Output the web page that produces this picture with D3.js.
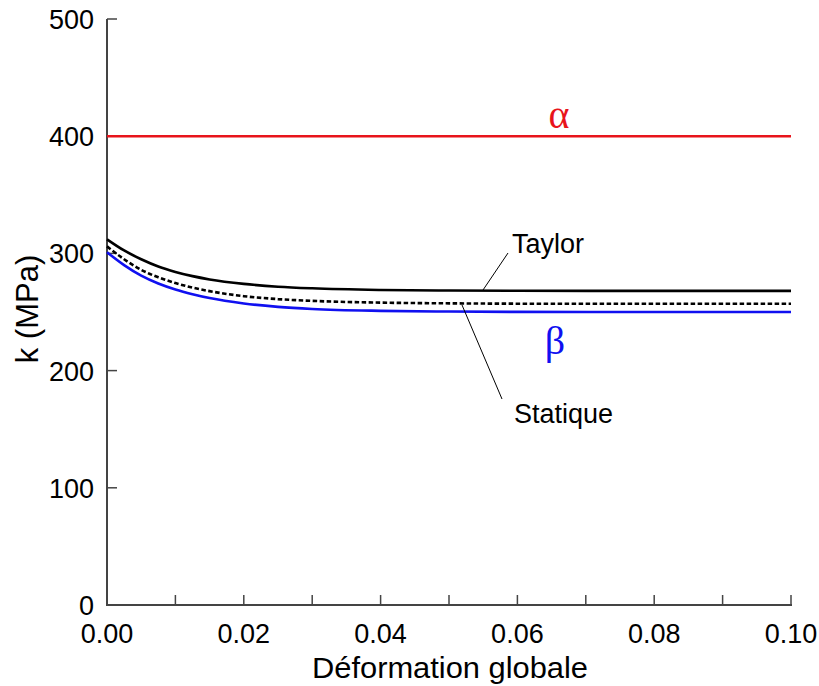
<!DOCTYPE html>
<html><head><meta charset="utf-8">
<script src="https://cdn.jsdelivr.net/npm/d3@7"></script>
<style>body{margin:0;background:#fff}svg{display:block}</style>
</head><body>
<svg id="c" width="819" height="686"></svg>
<script>
const strain   = [0, 0.0025, 0.005, 0.0075, 0.01, 0.0125, 0.015, 0.02, 0.025, 0.03, 0.04, 0.05, 0.06, 0.08, 0.1];
const taylor   = [312, 302.5, 295, 288.8, 284.2, 280.6, 277.8, 274, 271.6, 270.2, 268.8, 268.3, 268.1, 268, 268];
const statique = [306, 295, 286, 279.6, 274.7, 270.8, 267.8, 263.5, 261, 259.5, 258, 257.4, 257.1, 257, 257];
const beta     = [301, 290, 281, 274.3, 269.2, 265.2, 261.9, 257.3, 254.4, 252.6, 251, 250.4, 250.1, 250, 250];
const alpha    = [400, 400];
const alphaX   = [0, 0.1];
const xTicksMajor = [0, 0.02, 0.04, 0.06, 0.08, 0.1];
const xTicksAll = [0,0.01,0.02,0.03,0.04,0.05,0.06,0.07,0.08,0.09,0.1];
const yTicks = [0,100,200,300,400,500];

const svg = d3.select("#c");
const x = d3.scaleLinear().domain([0,0.1]).range([107,791]);
const y = d3.scaleLinear().domain([0,500]).range([605,19]);
const font = "Liberation Sans, Arial, sans-serif";
const serif = "Liberation Serif, Times New Roman, serif";

const axisCol = "#444";
svg.append("line").attr("x1",107).attr("x2",107).attr("y1",y(500)).attr("y2",y(0)+1).attr("stroke",axisCol).attr("stroke-width",2);
svg.append("line").attr("x1",106).attr("x2",x(0.1)+1).attr("y1",y(0)).attr("y2",y(0)).attr("stroke",axisCol).attr("stroke-width",2);
svg.selectAll(".yt").data(yTicks).join("line").attr("x1",107).attr("x2",117).attr("y1",d=>y(d)).attr("y2",d=>y(d)).attr("stroke",axisCol).attr("stroke-width",1.5);
svg.selectAll(".yl").data(yTicks).join("text").attr("x",94).attr("y",d=>y(d)+10).attr("text-anchor","end")
  .attr("font-family",font).attr("font-size",27).text(d=>d);
svg.selectAll(".xt").data(xTicksAll.slice(1)).join("line").attr("x1",d=>x(d)).attr("x2",d=>x(d)).attr("y1",y(0)).attr("y2",y(0)-10).attr("stroke",axisCol).attr("stroke-width",1.5);
svg.selectAll(".xl").data(xTicksMajor).join("text").attr("x",d=>x(d)).attr("y",643).attr("text-anchor","middle")
  .attr("font-family",font).attr("font-size",27).text(d=>d.toFixed(2));

svg.append("text").attr("x",450).attr("y",678).attr("text-anchor","middle").attr("font-family",font).attr("font-size",30)
  .attr("textLength",276).attr("lengthAdjust","spacingAndGlyphs").text("Déformation globale");
svg.append("text").attr("transform","translate(38,309) rotate(-90)").attr("text-anchor","middle").attr("font-family",font).attr("font-size",31).text("k (MPa)");

const line = d3.line().x(d=>x(d[0])).y(d=>y(d[1])).curve(d3.curveMonotoneX);
svg.append("path").attr("d",line(alphaX.map((v,i)=>[v,alpha[i]]))).attr("fill","none").attr("stroke","#e8141b").attr("stroke-width",2.6);
svg.append("path").attr("d",line(strain.map((v,i)=>[v,beta[i]]))).attr("fill","none").attr("stroke","#1010f0").attr("stroke-width",2.6);
svg.append("path").attr("d",line(strain.map((v,i)=>[v,statique[i]]))).attr("fill","none").attr("stroke","#000").attr("stroke-width",2.6).attr("stroke-dasharray","4.5,2.5");
svg.append("path").attr("d",line(strain.map((v,i)=>[v,taylor[i]]))).attr("fill","none").attr("stroke","#000").attr("stroke-width",2.6);

svg.append("text").attr("x",559).attr("y",128).attr("text-anchor","middle").attr("font-family",serif).attr("font-size",40).attr("fill","#e8141b").text("α");
svg.append("text").attr("x",555).attr("y",354).attr("text-anchor","middle").attr("font-family",serif).attr("font-size",40).attr("fill","#1010f0").text("β");
svg.append("text").attr("x",512).attr("y",253).attr("font-family",font).attr("font-size",27).text("Taylor");
svg.append("text").attr("x",514).attr("y",423).attr("font-family",font).attr("font-size",27).text("Statique");
svg.append("line").attr("x1",483).attr("y1",290).attr("x2",508).attr("y2",253).attr("stroke","#000").attr("stroke-width",1);
svg.append("line").attr("x1",462).attr("y1",305).attr("x2",502).attr("y2",399).attr("stroke","#000").attr("stroke-width",1);
</script>
</body></html>
